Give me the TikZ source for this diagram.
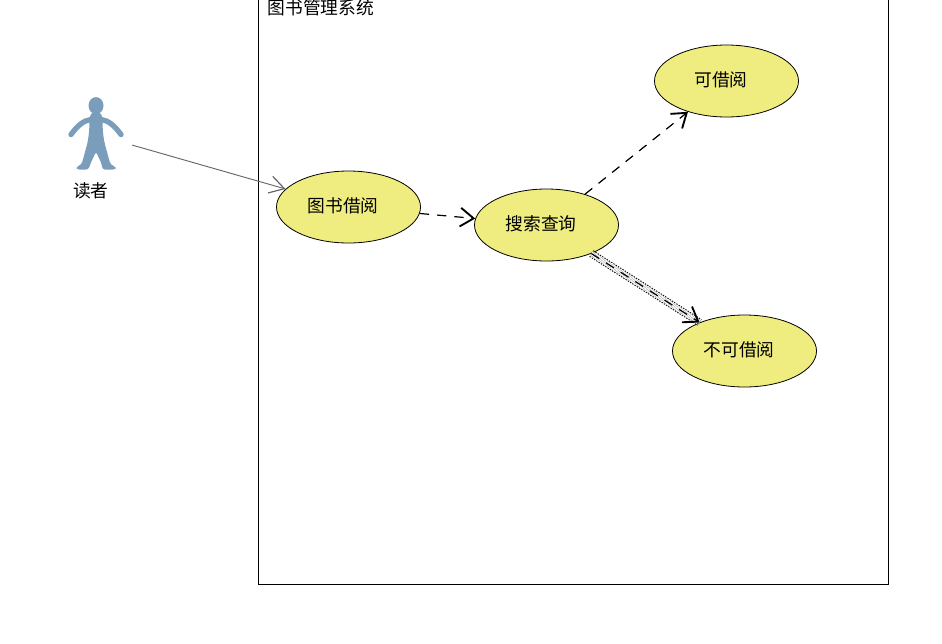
\documentclass[tikz,border=0pt]{standalone}
\usepackage{fontspec}
\usepackage{xcolor}
\newfontfamily\cjk{Noto Sans CJK SC}
\usetikzlibrary{arrows.meta,calc,positioning,shapes.geometric}
\definecolor{casefill}{HTML}{EFED80}
\definecolor{personblue}{HTML}{7B9DBC}
\tikzset{%
	usecase/.style  = {draw, ellipse, fill=casefill, line width=0.6pt, minimum width=108pt, minimum height=54pt, inner sep=0pt, font=\cjk\fontsize{13.3}{13.3}\selectfont, execute at end node={\hspace*{8.2pt}}, text depth=3pt}, % Use case
	system/.style   = {draw, rectangle, line width=0.6pt, minimum width=472.5pt, minimum height=445.9pt}, % Frame
	person/.style   = {rectangle, minimum width=54.75pt, minimum height=53pt, inner sep=0pt}, % Actor
	label/.style    = {inner sep=0pt, font=\cjk\fontsize{13.3}{13.3}\selectfont}, % Text
	assoc/.style    = {draw=black!60, line width=0.7pt, -{Straight Barb[length=11pt,width=13pt,line width=0.9pt]}},
	depend/.style   = {line width=0.9pt, dash pattern=on 7pt off 6pt, -{Straight Barb[length=10pt,width=14pt,line width=1.4pt]}},
	dotframe/.style = {line width=0.75pt, double, double distance=4.2pt, dash pattern=on 1pt off 1pt},
}
\begin{document}
\begin{tikzpicture}[x=0.75pt, y=-0.75pt]
	\useasboundingbox (0,0) rectangle (942,643);

	\node[system] (sys) at (573.5,287.25) {};
	\node[label,anchor=west] (title) at (267.5,7.5) {图书管理系统};

	\node[usecase] (borrow) at (348.5,207) {图书借阅};
	\node[usecase,right of=borrow,node distance=148.5pt,yshift=-13.5pt] (search) {搜索查询};
	\node[usecase,right of=search,node distance=135pt,yshift=108pt] (avail) {可借阅};
	\node[usecase,right of=search,node distance=148.5pt,yshift=-94.5pt] (unavail) {不可借阅};
	\node[person,left of=borrow,node distance=189.75pt,yshift=54.3pt] (reader) {};
	\node[label,below of=reader,node distance=42.3pt,xshift=-3.4pt] (readerlabel) {读者};

	% figure of the reader
	\fill[personblue,shift={(reader.center)}] (0.5,-29) ellipse (7.5 and 8.5);
	\draw[personblue,shift={(reader.center)},line width=4pt,line cap=round]
		(-24.5,0) .. controls (-18,-9) and (-12,-14) .. (-5,-15);
	\draw[personblue,shift={(reader.center)},line width=4pt,line cap=round]
		(25.5,0) .. controls (19,-9) and (13,-14) .. (6,-15);
	\fill[personblue,shift={(reader.center)},rounded corners=2pt]
		(-4,-22) -- (5,-22) -- (7,-17) .. controls (7,-5) and (8,4) .. (10,12)
		-- (15,30) -- (20,32) -- (20,35) -- (7,35) -- (6,29)
		-- (0.5,17) -- (-5,29) -- (-7,35) -- (-19,35) -- (-19,32) -- (-14,30)
		-- (-9,12) .. controls (-7,4) and (-6,-5) .. (-6,-17) -- cycle;

	\draw[assoc] (reader) -- (borrow);
	\draw[depend] (borrow) -- (search);
	\draw[depend] (search) -- (avail);
	\draw[dotframe] (search) -- (unavail);
	\draw[depend] (search) -- (unavail);
\end{tikzpicture}
\end{document}
